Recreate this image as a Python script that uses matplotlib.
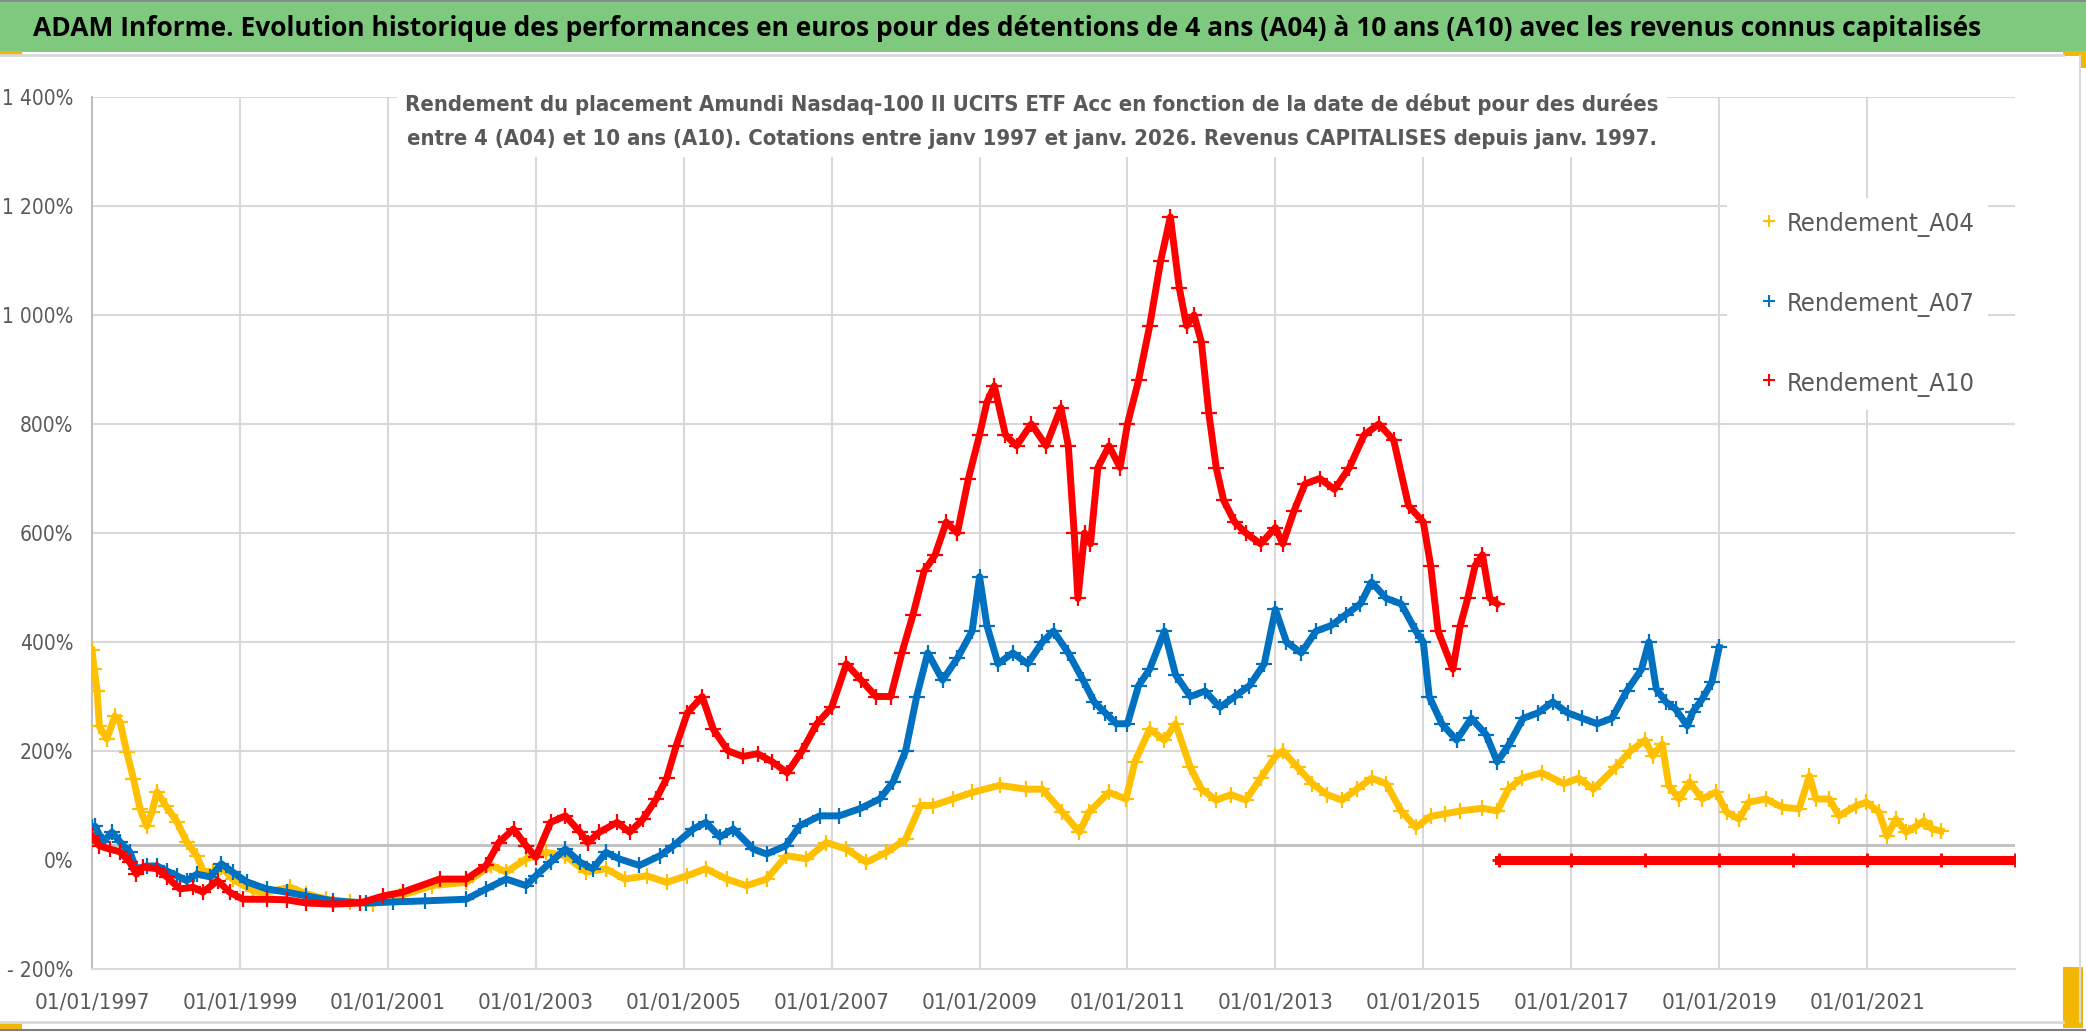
import matplotlib
matplotlib.use('Agg')
import matplotlib.pyplot as plt
from matplotlib.patches import Rectangle
from matplotlib.lines import Line2D
from matplotlib import font_manager

# Rendement_A04 (années décimales de début, rendement en %)
annees_a04 = [1997.00, 1997.03, 1997.07, 1997.10, 1997.20, 1997.31, 1997.38, 1997.47, 1997.56, 1997.65,
              1997.74, 1997.81, 1997.88, 1998.00, 1998.15, 1998.28, 1998.42, 1998.50, 1998.64, 1998.75,
              1998.90, 1999.18, 1999.36, 1999.68, 1999.90, 2000.17, 2000.49, 2000.80, 2001.16, 2001.60,
              2002.06, 2002.40, 2002.60, 2002.87, 2003.14, 2003.40, 2003.68, 2003.95, 2004.20, 2004.50,
              2004.77, 2005.04, 2005.30, 2005.58, 2005.85, 2006.12, 2006.39, 2006.66, 2006.93, 2007.20,
              2007.47, 2007.74, 2008.00, 2008.20, 2008.37, 2008.64, 2008.90, 2009.27, 2009.63, 2009.85,
              2010.12, 2010.35, 2010.48, 2010.75, 2010.98, 2011.10, 2011.30, 2011.50, 2011.65, 2011.85,
              2012.00, 2012.20, 2012.40, 2012.60, 2012.80, 2013.00, 2013.10, 2013.30, 2013.50, 2013.70,
              2013.90, 2014.10, 2014.30, 2014.50, 2014.70, 2014.90, 2015.10, 2015.30, 2015.50, 2015.80,
              2016.00, 2016.15, 2016.33, 2016.60, 2016.90, 2017.10, 2017.30, 2017.60, 2017.80, 2018.00,
              2018.10, 2018.23, 2018.32, 2018.46, 2018.60, 2018.77, 2018.96, 2019.10, 2019.27, 2019.40,
              2019.63, 2019.85, 2020.08, 2020.22, 2020.31, 2020.49, 2020.62, 2020.85, 2020.99, 2021.16,
              2021.27, 2021.39, 2021.53, 2021.66, 2021.77, 2021.88, 2022.00]
rdt_a04 = [385, 350, 310, 245, 222, 264, 253, 198, 149, 94,
           62, 88, 125, 99, 70, 33, 7, -20, -22, -13,
           -35, -57, -59, -50, -62, -72, -77, -80, -66, -47,
           -41, -10, -22, 2, 14, 8, -22, -16, -35, -29,
           -41, -29, -16, -35, -47, -35, 8, 2, 32, 20,
           -4, 14, 38, 100, 100, 112, 124, 137, 130, 130,
           88, 51, 88, 124, 112, 180, 240, 220, 250, 170,
           130, 110, 120, 110, 150, 190, 200, 170, 140, 120,
           110, 130, 150, 140, 90, 60, 80, 85, 90, 95,
           90, 130, 150, 160, 140, 150, 130, 170, 200, 220,
           191, 213, 136, 112, 143, 112, 125, 88, 75, 106,
           112, 97, 94, 154, 112, 112, 81, 99, 106, 88,
           44, 75, 51, 62, 72, 57, 53]

# Rendement_A07
annees_a07 = [1997.00, 1997.04, 1997.15, 1997.27, 1997.38, 1997.51, 1997.60, 1997.74, 1997.88, 1998.01,
              1998.15, 1998.28, 1998.42, 1998.60, 1998.75, 1998.90, 1999.09, 1999.36, 1999.63, 1999.90,
              2000.26, 2000.71, 2001.07, 2001.50, 2002.06, 2002.33, 2002.60, 2002.87, 2003.00, 2003.20,
              2003.40, 2003.60, 2003.77, 2003.95, 2004.13, 2004.40, 2004.68, 2004.86, 2005.13, 2005.30,
              2005.49, 2005.67, 2005.94, 2006.12, 2006.38, 2006.57, 2006.84, 2007.10, 2007.38, 2007.65,
              2007.83, 2008.00, 2008.15, 2008.30, 2008.50, 2008.70, 2008.90, 2009.00, 2009.10, 2009.25,
              2009.45, 2009.65, 2009.85, 2010.00, 2010.20, 2010.40, 2010.55, 2010.70, 2010.85, 2011.00,
              2011.15, 2011.30, 2011.50, 2011.65, 2011.85, 2012.05, 2012.25, 2012.45, 2012.65, 2012.85,
              2013.00, 2013.15, 2013.35, 2013.55, 2013.75, 2013.95, 2014.15, 2014.30, 2014.50, 2014.70,
              2014.90, 2015.00, 2015.08, 2015.25, 2015.45, 2015.65, 2015.85, 2016.00, 2016.15, 2016.35,
              2016.55, 2016.75, 2016.95, 2017.15, 2017.35, 2017.55, 2017.75, 2017.95, 2018.05, 2018.15,
              2018.28, 2018.41, 2018.57, 2018.64, 2018.77, 2018.90, 2019.00]
rdt_a07 = [60, 62, 33, 51, 33, 15, -16, -11, -11, -20,
           -29, -38, -26, -31, -7, -22, -40, -53, -59, -66,
           -75, -79, -77, -75, -72, -53, -35, -47, -29, -4,
           20, -4, -16, 14, 2, -10, 8, 26, 57, 69,
           42, 57, 20, 11, 26, 63, 81, 81, 94, 112,
           143, 200, 300, 380, 330, 370, 420, 520, 430, 360,
           380, 360, 400, 420, 380, 330, 290, 270, 250, 250,
           320, 350, 420, 340, 300, 310, 280, 300, 320, 360,
           460, 400, 380, 420, 430, 450, 470, 510, 480, 470,
           420, 400, 300, 250, 220, 260, 230, 180, 210, 260,
           270, 290, 270, 260, 250, 260, 310, 350, 400, 314,
           290, 277, 246, 271, 295, 326, 390]

# Rendement_A10
annees_a10 = [1997.00, 1997.10, 1997.24, 1997.38, 1997.51, 1997.60, 1997.69, 1997.88, 1998.01, 1998.19,
              1998.37, 1998.50, 1998.70, 1998.86, 1999.04, 1999.36, 1999.63, 1999.90, 2000.26, 2000.62,
              2000.94, 2001.20, 2001.70, 2002.06, 2002.33, 2002.50, 2002.70, 2002.87, 2003.00, 2003.20,
              2003.40, 2003.60, 2003.70, 2003.86, 2004.10, 2004.27, 2004.45, 2004.63, 2004.77, 2004.90,
              2005.05, 2005.25, 2005.40, 2005.60, 2005.80, 2006.00, 2006.20, 2006.40, 2006.60, 2006.80,
              2007.00, 2007.20, 2007.40, 2007.60, 2007.80, 2007.95, 2008.10, 2008.25, 2008.40, 2008.55,
              2008.70, 2008.85, 2009.00, 2009.10, 2009.20, 2009.35, 2009.50, 2009.70, 2009.90, 2010.10,
              2010.20, 2010.28, 2010.33, 2010.42, 2010.50, 2010.60, 2010.75, 2010.90, 2011.00, 2011.15,
              2011.30, 2011.45, 2011.58, 2011.70, 2011.80, 2011.90, 2012.00, 2012.10, 2012.20, 2012.30,
              2012.45, 2012.60, 2012.80, 2013.00, 2013.10, 2013.25, 2013.40, 2013.60, 2013.80, 2014.00,
              2014.20, 2014.40, 2014.60, 2014.80, 2015.00, 2015.10, 2015.20, 2015.40, 2015.50, 2015.60,
              2015.70, 2015.80, 2015.90, 2016.00]
rdt_a10 = [44, 26, 20, 15, -4, -26, -13, -16, -31, -53,
           -50, -59, -38, -59, -72, -72, -73, -79, -81, -79,
           -66, -59, -35, -35, -10, 32, 57, 26, 5, 69,
           81, 51, 32, 51, 69, 51, 75, 112, 150, 210,
           270, 300, 240, 200, 190, 195, 180, 160, 200, 250,
           280, 360, 330, 300, 300, 380, 450, 530, 560, 620,
           600, 700, 780, 840, 870, 780, 760, 800, 760, 830,
           760, 600, 480, 600, 580, 720, 760, 720, 800, 880,
           980, 1100, 1180, 1050, 980, 1000, 950, 820, 720, 660,
           620, 600, 580, 610, 580, 640, 690, 700, 680, 720,
           780, 800, 770, 650, 620, 540, 420, 350, 430, 480,
           540, 560, 480, 470]
# fin de série A10 : valeurs vides tracées à 0
annees_a10_vide = [2016.02, 2017.0, 2018.0, 2019.0, 2020.0, 2021.0, 2022.0, 2023.0]
rdt_a10_vide = [0, 0, 0, 0, 0, 0, 0, 0]

ticks_y = [-200, 0, 200, 400, 600, 800, 1000, 1200, 1400]
labels_y = ['- 200%', '0%', '200%', '400%', '600%', '800%', '1 000%', '1 200%', '1 400%']
ticks_x = list(range(1997, 2022, 2))
labels_x = ['01/01/%d' % a for a in ticks_x]

JAUNE, BLEU, ROUGE = '#FFC000', '#0070C0', '#FF0000'
GRIS_TXT = '#595959'
GRILLE = '#d9d9d9'

# police étroite si disponible (l'original est en Calibri), sinon Lato
polices = font_manager.fontManager.ttflist
etroites = [f for f in polices if ('Narrow' in f.name or 'Condensed' in f.name
                                   or f.stretch in ('condensed', 'semi-condensed'))]
if etroites:
    etroit, etirement = etroites[0].name, etroites[0].stretch
else:
    noms = {f.name for f in polices}
    etroit = 'Lato' if 'Lato' in noms else 'DejaVu Sans'
    etirement = 'normal'
large = 'Open Sans'
plt.rcParams['font.family'] = [etroit, 'DejaVu Sans']
plt.rcParams['font.stretch'] = etirement

W, H = 2086, 1032
fig = plt.figure(figsize=(W / 100, H / 100), dpi=100)
fig.patch.set_facecolor('white')


def fx(x):
    return x / W


def fy(y):
    return 1 - y / H


# bandeau titre et cadre
fig.add_artist(Rectangle((0, fy(52)), 1, 52 / H, transform=fig.transFigure,
                         facecolor='#7fc97f', edgecolor='none', zorder=0))
fig.add_artist(Line2D([0, 1], [fy(1), fy(1)], transform=fig.transFigure, color='#8a8a8a', lw=1.5))
fig.add_artist(Line2D([0, fx(2063)], [fy(55), fy(55)], transform=fig.transFigure, color=GRILLE, lw=2))
fig.add_artist(Line2D([0, fx(2063)], [fy(1022), fy(1022)], transform=fig.transFigure, color=GRILLE, lw=2))
fig.add_artist(Line2D([0, 1], [fy(1030), fy(1030)], transform=fig.transFigure, color='#7f7f7f', lw=1.5))
fig.add_artist(Line2D([fx(2080), fx(2080)], [fy(56), fy(1022)], transform=fig.transFigure, color=GRILLE, lw=1.5))
# poignées jaunes
for (x0, y0, w, h) in [(0, 51, 22, 4), (2063, 51, 23, 5), (2080, 51, 6, 17),
                       (2063, 967, 20, 61), (0, 1023, 22, 6)]:
    fig.add_artist(Rectangle((fx(x0), fy(y0 + h)), w / W, h / H, transform=fig.transFigure,
                             facecolor='#f2b705', edgecolor='none'))

titre = fig.text(fx(33), fy(28), "ADAM Informe. Evolution historique des performances en euros pour des "
                 "détentions de 4 ans (A04) à 10 ans (A10) avec les revenus connus capitalisés",
                 ha='left', va='center', fontsize=22, fontweight='bold', color='black',
                 family=[large, 'DejaVu Sans'], fontstretch='normal')

ax = fig.add_axes([fx(92), fy(969), (2015 - 92) / W, (969 - 97) / H])
ax.set_xlim(1997, 2023)
ax.set_ylim(-200, 1400)

ax.axhline(28, color='#bfbfbf', lw=2, zorder=2)
ax.plot(annees_a04, rdt_a04, color=JAUNE, lw=5, marker='+', ms=11, mew=1.6, zorder=3)
ax.plot(annees_a07, rdt_a07, color=BLEU, lw=5, marker='+', ms=11, mew=1.6, zorder=4)
ax.plot(annees_a10, rdt_a10, color=ROUGE, lw=5, marker='+', ms=11, mew=1.6, zorder=5)
ax.plot(annees_a10_vide, rdt_a10_vide, color=ROUGE, lw=6.5, marker='+', ms=10, mew=2, zorder=5)

ax.set_xticks(ticks_x)
ax.set_xticklabels(labels_x)
ax.set_yticks(ticks_y)
ax.set_yticklabels(labels_y)
ax.tick_params(axis='both', length=0, colors=GRIS_TXT)
ax.tick_params(axis='y', labelsize=15, pad=13.5)
ax.tick_params(axis='x', labelsize=16, pad=17)
ax.grid(True, color=GRILLE, lw=1.5)
ax.set_axisbelow(True)
for t, v in zip(ax.yaxis.get_major_ticks(), ticks_y):
    if v <= 0:
        t.gridline.set_visible(False)
for cote in ['top', 'right']:
    ax.spines[cote].set_visible(False)
ax.spines['left'].set_color('#bfbfbf')
ax.spines['left'].set_linewidth(1.5)
ax.spines['bottom'].set_color(GRILLE)
ax.spines['bottom'].set_linewidth(1.5)

sous_titre = ax.text(fx(1032), fy(121), "Rendement du placement Amundi Nasdaq-100 II UCITS ETF Acc en fonction "
                     "de la date de début pour des durées\nentre 4 (A04) et 10 ans (A10). Cotations entre janv 1997 "
                     "et janv. 2026. Revenus CAPITALISES depuis janv. 1997.",
                     transform=fig.transFigure, ha='center', va='center', fontsize=19, fontweight='bold',
                     color=GRIS_TXT, zorder=6,
                     bbox=dict(facecolor='white', edgecolor='none', pad=7))

poignees = [Line2D([], [], ls='none', marker='+', color=c, ms=8, mew=1.5) for c in (JAUNE, BLEU, ROUGE)]
leg = ax.legend(poignees, ['Rendement_A04', 'Rendement_A07', 'Rendement_A10'],
                loc='upper left', bbox_to_anchor=(fx(1712), fy(183)), bbox_transform=fig.transFigure,
                frameon=True, facecolor='white', edgecolor='none', framealpha=1, fancybox=False,
                fontsize=21, labelspacing=1.83, handlelength=2.0, handletextpad=-0.4, borderpad=0.45,
                labelcolor=GRIS_TXT)
leg.set_zorder(7)

# ajustement des tailles de texte à la largeur mesurée sur l'original
rend = fig.canvas.get_renderer()


def ajuster(txt, largeur):
    w = txt.get_window_extent(rend).width
    txt.set_fontsize(txt.get_fontsize() * largeur / w)


ajuster(titre, 1952)
ajuster(sous_titre, 1250)
sous_titre.set_linespacing(41 / (sous_titre.get_fontsize() * 100 / 72))
for t in leg.get_texts():
    ajuster(t, 188)

fig.savefig('out.png', dpi=100, facecolor='white')
